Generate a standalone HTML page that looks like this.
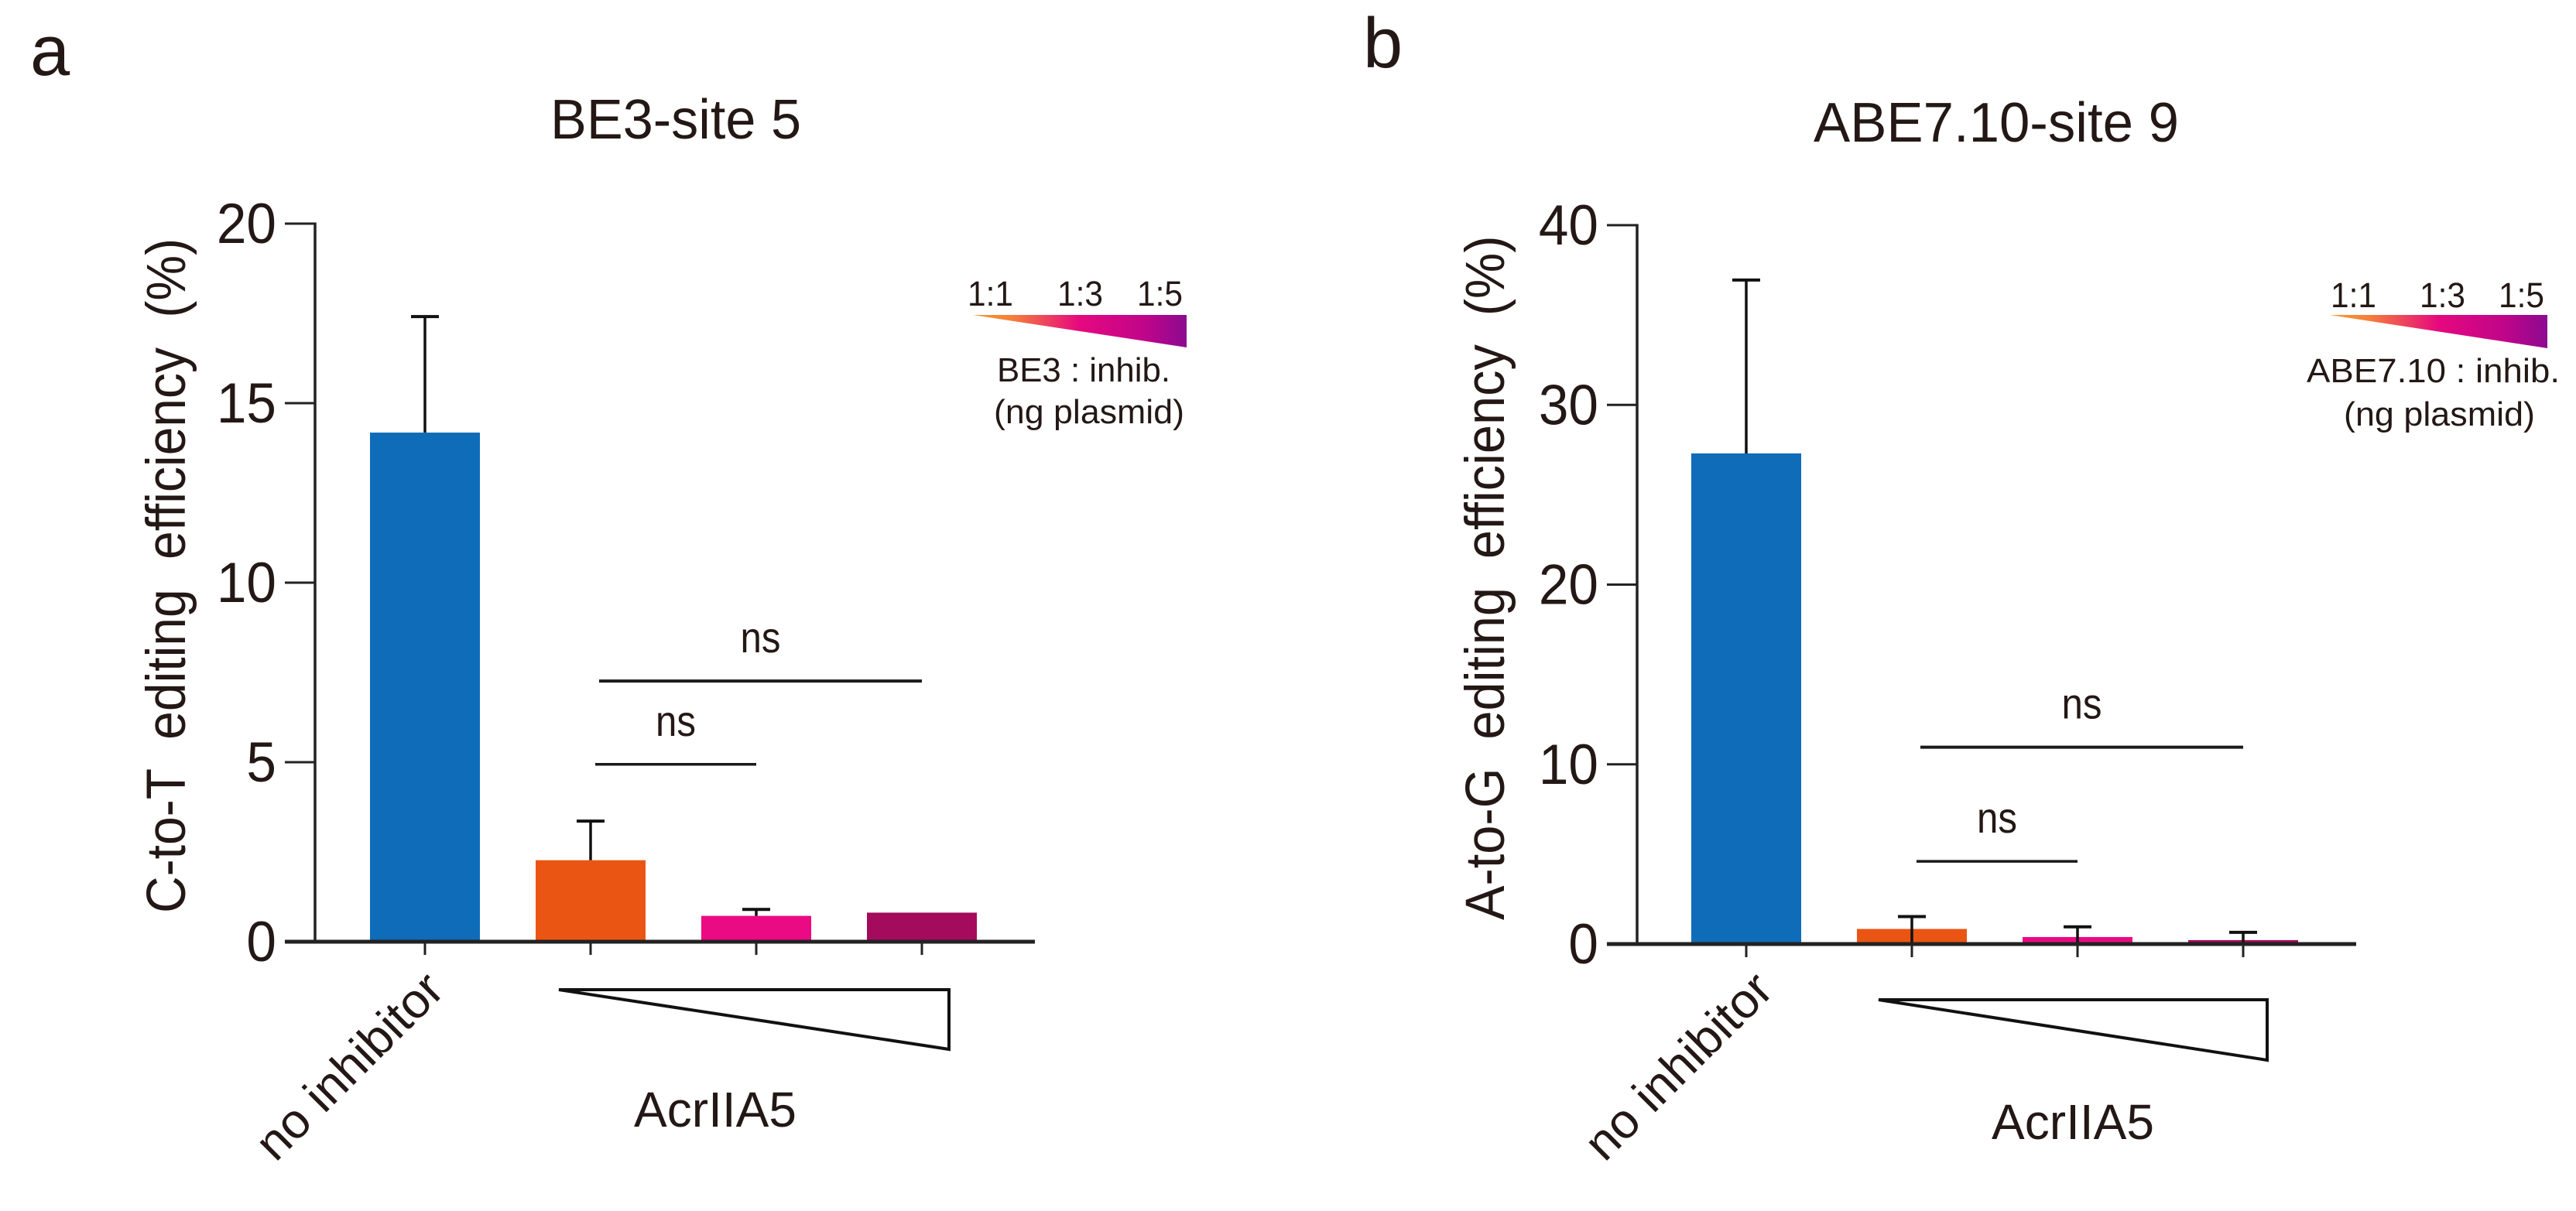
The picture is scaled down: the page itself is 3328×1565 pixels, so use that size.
<!DOCTYPE html>
<html lang="en">
<head>
<meta charset="utf-8">
<title>AcrIIA5 base editing efficiency</title>
<style>
html,body{margin:0;padding:0;background:#fff;width:3328px;height:1565px;overflow:hidden}
svg{display:block}
text{font-family:"Liberation Sans",Arial,sans-serif;fill:#231815}
</style>
</head>
<body>
<svg id="figure" xmlns="http://www.w3.org/2000/svg" width="3328" height="1565" viewBox="0 0 3328 1565">
<defs>
<linearGradient id="ratio-gradient" x1="0" y1="0" x2="1" y2="0">
<stop offset="0" stop-color="#f59a2e"/>
<stop offset="0.18" stop-color="#f5803a"/>
<stop offset="0.5" stop-color="#e6087f"/>
<stop offset="0.8" stop-color="#c0058a"/>
<stop offset="1" stop-color="#8c0a90"/>
</linearGradient>
</defs>
<rect x="0" y="0" width="3328" height="1565" fill="#fff"/>

<text x="39" y="97" font-size="92">a</text>
<text x="1761" y="87" font-size="92">b</text>

<text x="711" y="179" font-size="72" textLength="324" lengthAdjust="spacingAndGlyphs">BE3-site 5</text>
<text x="2343" y="183" font-size="72" textLength="472" lengthAdjust="spacingAndGlyphs">ABE7.10-site 9</text>

<text transform="translate(239,1180) rotate(-90) scale(0.93,1)" font-size="71" word-spacing="21.5">C-to-T editing efficiency (%)</text>
<text transform="translate(1943,1189) rotate(-90) scale(0.94,1)" font-size="71" word-spacing="19.5">A-to-G editing efficiency (%)</text>

<text transform="translate(356,1503) rotate(-45)" font-size="63" textLength="312" lengthAdjust="spacingAndGlyphs">no inhibitor</text>
<text transform="translate(2073,1503) rotate(-45)" font-size="63" textLength="312" lengthAdjust="spacingAndGlyphs">no inhibitor</text>

<polygon points="722,1279 1226,1279 1226,1356" fill="none" stroke="#111" stroke-width="4" stroke-linejoin="miter"/>
<polygon points="2427,1292 2929,1292 2929,1370" fill="none" stroke="#111" stroke-width="4" stroke-linejoin="miter"/>

<text x="819" y="1456" font-size="64" textLength="210" lengthAdjust="spacingAndGlyphs">AcrIIA5</text>
<text x="2573" y="1472" font-size="64" textLength="210" lengthAdjust="spacingAndGlyphs">AcrIIA5</text>

<g>
<text x="1250" y="395" font-size="45" textLength="59" lengthAdjust="spacingAndGlyphs">1:1</text>
<text x="1366" y="395" font-size="45" textLength="59" lengthAdjust="spacingAndGlyphs">1:3</text>
<text x="1469" y="395" font-size="45" textLength="59" lengthAdjust="spacingAndGlyphs">1:5</text>
<polygon points="1257,407 1533,407 1533,449" fill="url(#ratio-gradient)"/>
<text x="1288" y="493" font-size="44" textLength="224" lengthAdjust="spacingAndGlyphs">BE3 : inhib.</text>
<text x="1284" y="547" font-size="44" textLength="246" lengthAdjust="spacingAndGlyphs">(ng plasmid)</text>
</g>
<g>
<text x="3011" y="397" font-size="45" textLength="59" lengthAdjust="spacingAndGlyphs">1:1</text>
<text x="3126" y="397" font-size="45" textLength="59" lengthAdjust="spacingAndGlyphs">1:3</text>
<text x="3228" y="397" font-size="45" textLength="59" lengthAdjust="spacingAndGlyphs">1:5</text>
<polygon points="3010,407 3291,407 3291,450" fill="url(#ratio-gradient)"/>
<text x="2980" y="494" font-size="44" textLength="327" lengthAdjust="spacingAndGlyphs">ABE7.10 : inhib.</text>
<text x="3028" y="550" font-size="44" textLength="247" lengthAdjust="spacingAndGlyphs">(ng plasmid)</text>
</g>

<g id="plot-a"></g>
<g id="plot-b"></g>
</svg>

<script>
const categories = ['no-inhibitor', 'ratio-1-1', 'ratio-1-3', 'ratio-1-5'];
const barColors = ['#0f6cb8', '#ea5514', '#ea0a83', '#a40b5d'];

const ticksA = [0, 5, 10, 15, 20];
const valuesA = [14.18, 2.27, 0.72, 0.81];
const errorTopsA = [17.41, 3.36, 0.9, null];
const stemThroughA = [false, false, false, false];
const nsLevelsA = [7.26, 4.94];

const ticksB = [0, 10, 20, 30, 40];
const valuesB = [27.3, 0.84, 0.39, 0.22];
const errorTopsB = [36.95, 1.53, 0.96, 0.65];
const stemThroughB = [false, true, true, true];
const nsLevelsB = [10.95, 4.6];

const NS = 'http://www.w3.org/2000/svg';

function make(parent, tag, attrs) {
  const node = document.createElementNS(NS, tag);
  for (const key in attrs) node.setAttribute(key, attrs[key]);
  parent.appendChild(node);
  return node;
}

function drawPlot(parent, suffix, geom, ticks, values, errorTops, stemThrough, nsLevels) {
  const yScale = v => geom.y0 - (v - ticks[0]) / (ticks[ticks.length - 1] - ticks[0]) * (geom.y0 - geom.yTop);
  const xScale = i => geom.x0 + i * geom.step;

  values.forEach((v, i) => {
    const bar = make(parent, 'rect', {x: xScale(i) - 71, y: yScale(v), width: 142, height: geom.y0 - yScale(v), fill: barColors[i]});
    
    
  });

  errorTops.forEach((top, i) => {
    if (top === null) return;
    const stemBase = stemThrough[i] ? geom.y0 : yScale(values[i]);
    const stem = make(parent, 'line', {x1: xScale(i), x2: xScale(i), y1: stemBase, y2: yScale(top), stroke: '#111', 'stroke-width': 3.5});
    
    
    const cap = make(parent, 'line', {x1: xScale(i) - 18, x2: xScale(i) + 18, y1: yScale(top), y2: yScale(top), stroke: '#111', 'stroke-width': 4});
    
    
  });

  const yAxis = make(parent, 'line', {x1: geom.xAxis, x2: geom.xAxis, y1: yScale(ticks[ticks.length - 1]) - 1.5, y2: geom.y0 + 2, stroke: '#222', 'stroke-width': 3.5});
  
  

  const xAxis = make(parent, 'line', {x1: geom.xAxis - 39, x2: geom.xEnd, y1: geom.y0, y2: geom.y0, stroke: '#222', 'stroke-width': 5});
  
  

  ticks.forEach(t => {
    if (t !== ticks[0]) {
      const tick = make(parent, 'line', {x1: geom.xAxis - 39, x2: geom.xAxis, y1: yScale(t), y2: yScale(t), stroke: '#222', 'stroke-width': 3});
      
      
    }
    const label = make(parent, 'text', {transform: 'translate(' + (geom.xAxis - 50) + ',' + (yScale(t) + 25) + ') scale(0.95,1)', 'font-size': 73, 'text-anchor': 'end'});
    label.textContent = String(t);
    
    
  });

  categories.forEach((c, i) => {
    const tick = make(parent, 'line', {x1: xScale(i), x2: xScale(i), y1: geom.y0, y2: geom.y0 + 17, stroke: '#222', 'stroke-width': 3});
    
    
  });

  nsLevels.forEach((level, i) => {
    const x1 = xScale(1) + (i === 0 ? 11 : 6);
    const x2 = xScale(i === 0 ? 3 : 2);
    const line = make(parent, 'line', {x1: x1, x2: x2, y1: yScale(level), y2: yScale(level), stroke: '#1a1a1a', 'stroke-width': i === 0 ? 4 : 3.5});
    
    
    const label = make(parent, 'text', {x: (x1 + x2) / 2 - 26, y: yScale(level) - 37, 'font-size': 56, textLength: 52, lengthAdjust: 'spacingAndGlyphs'});
    label.textContent = 'ns';
    
    
  });
}

drawPlot(document.getElementById('plot-a'), 'a',
  {xAxis: 407, x0: 549, step: 214, xEnd: 1337, y0: 1217, yTop: 289},
  ticksA, valuesA, errorTopsA, stemThroughA, nsLevelsA);

drawPlot(document.getElementById('plot-b'), 'b',
  {xAxis: 2115, x0: 2256, step: 214, xEnd: 3044, y0: 1220, yTop: 291},
  ticksB, valuesB, errorTopsB, stemThroughB, nsLevelsB);
</script>
</body>
</html>
